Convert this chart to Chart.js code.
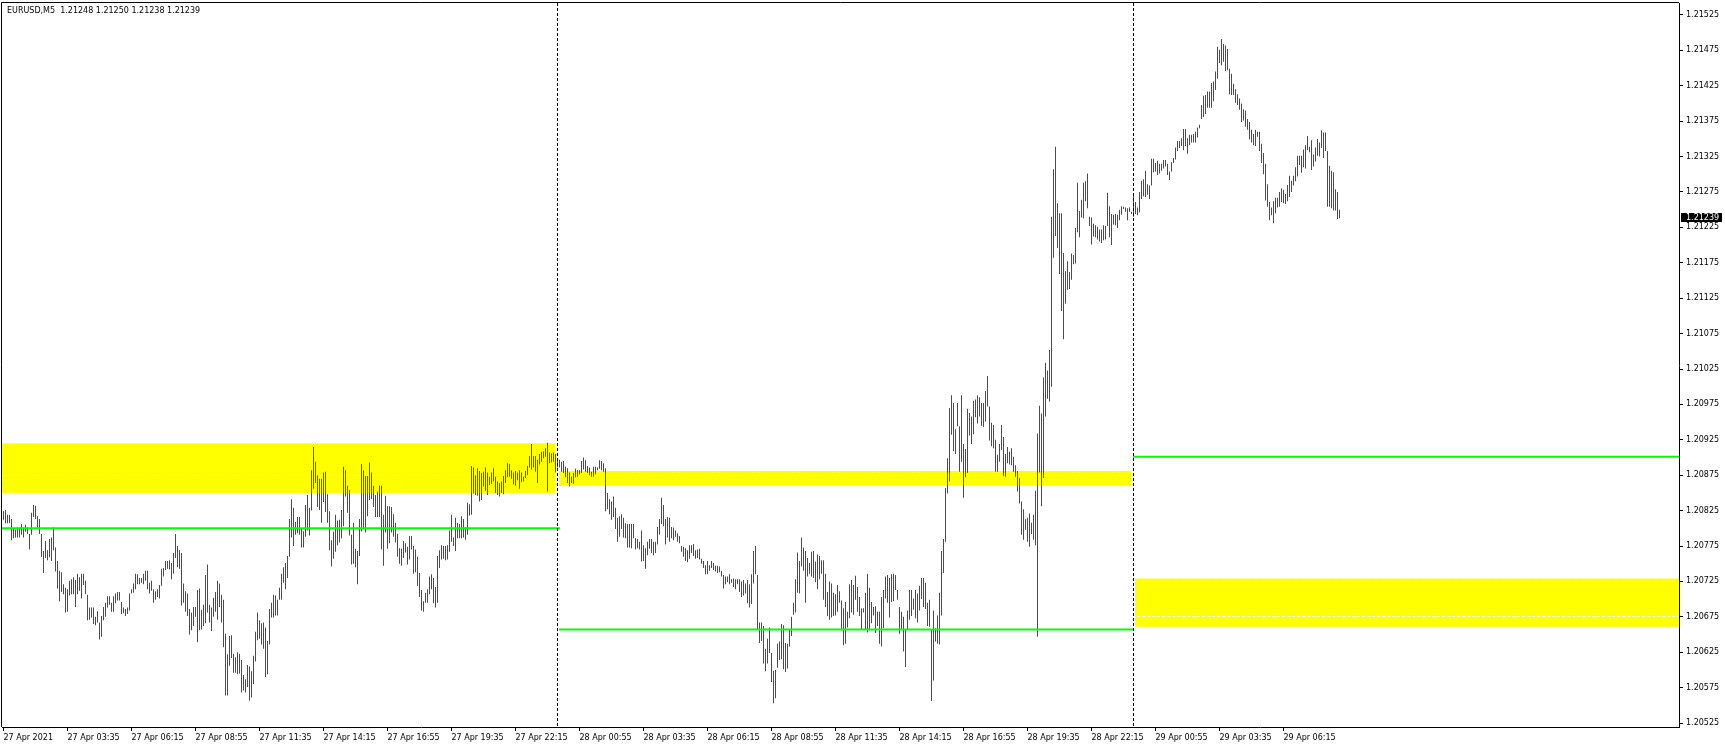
<!DOCTYPE html>
<html><head><meta charset="utf-8">
<script src="https://cdn.jsdelivr.net/npm/chart.js@4.4.0/dist/chart.umd.min.js"></script>
<style>html,body{margin:0;padding:0;background:#fff;overflow:hidden}canvas{display:block}</style>
</head><body>
<canvas id="c" width="1725" height="748"></canvas>
<script>
const chartTitle = 'EURUSD,M5  1.21248 1.21250 1.21238 1.21239';
const lastPrice = 1.21239;

const highs = [
1.20824,1.20826,1.20819,1.20819,1.20813,1.20799,1.20798,1.20801,1.20801,1.20806,
1.20801,1.20805,1.20801,1.20792,1.20822,1.20833,1.20832,1.20817,1.20813,1.20792,
1.20768,1.20782,1.20769,1.20785,1.20787,1.20801,1.20773,1.20754,1.20740,1.20738,
1.20721,1.20716,1.20714,1.20726,1.20728,1.20731,1.20727,1.20736,1.20731,1.20736,
1.20736,1.20726,1.20706,1.20688,1.20688,1.20688,1.20675,1.20683,1.20667,1.20676,
1.20689,1.20695,1.20704,1.20704,1.20695,1.20704,1.20708,1.20710,1.20710,1.20696,
1.20688,1.20686,1.20688,1.20708,1.20714,1.20722,1.20736,1.20735,1.20730,1.20730,
1.20736,1.20740,1.20740,1.20723,1.20726,1.20714,1.20711,1.20714,1.20720,1.20743,
1.20744,1.20754,1.20754,1.20755,1.20751,1.20765,1.20792,1.20775,1.20769,1.20765,
1.20722,1.20711,1.20708,1.20686,1.20681,1.20689,1.20689,1.20713,1.20715,1.20685,
1.20692,1.20734,1.20749,1.20692,1.20688,1.20702,1.20710,1.20726,1.20722,1.20706,
1.20699,1.20651,1.20622,1.20648,1.20649,1.20623,1.20618,1.20625,1.20623,1.20614,
1.20593,1.20587,1.20607,1.20605,1.20598,1.20620,1.20654,1.20681,1.20670,1.20666,
1.20667,1.20660,1.20641,1.20686,1.20695,1.20706,1.20705,1.20699,1.20716,1.20736,
1.20745,1.20751,1.20761,1.20813,1.20841,1.20829,1.20809,1.20816,1.20816,1.20799,
1.20796,1.20833,1.20847,1.20829,1.20882,1.20915,1.20894,1.20875,1.20870,1.20870,
1.20879,1.20880,1.20848,1.20824,1.20783,1.20795,1.20819,1.20811,1.20812,1.20826,
1.20887,1.20882,1.20860,1.20854,1.20791,1.20808,1.20771,1.20768,1.20813,1.20891,
1.20882,1.20874,1.20874,1.20893,1.20879,1.20860,1.20847,1.20852,1.20860,1.20860,
1.20819,1.20846,1.20831,1.20831,1.20830,1.20820,1.20808,1.20792,1.20772,1.20771,
1.20782,1.20779,1.20774,1.20789,1.20789,1.20775,1.20770,1.20760,1.20737,1.20713,
1.20697,1.20709,1.20714,1.20732,1.20735,1.20730,1.20717,1.20761,1.20769,1.20776,
1.20775,1.20775,1.20776,1.20797,1.20819,1.20787,1.20815,1.20808,1.20806,1.20817,
1.20813,1.20802,1.20836,1.20834,1.20888,1.20886,1.20875,1.20885,1.20881,1.20878,
1.20880,1.20886,1.20879,1.20873,1.20879,1.20885,1.20873,1.20866,1.20864,1.20866,
1.20874,1.20882,1.20892,1.20891,1.20882,1.20879,1.20881,1.20879,1.20882,1.20879,
1.20873,1.20881,1.20888,1.20902,1.20919,1.20902,1.20902,1.20897,1.20905,1.20908,
1.20909,1.20913,1.20921,1.20907,1.20906,1.20907,1.20905,1.20897,1.20897,1.20894,
1.20895,1.20887,1.20885,1.20879,1.20873,1.20878,1.20884,1.20882,1.20882,1.20895,
1.20900,1.20896,1.20888,1.20886,1.20880,1.20887,1.20887,1.20886,1.20896,1.20895,
1.20892,1.20885,1.20850,1.20841,1.20838,1.20845,1.20829,1.20815,1.20817,1.20820,
1.20815,1.20807,1.20806,1.20806,1.20806,1.20806,1.20786,1.20785,1.20781,1.20797,
1.20776,1.20772,1.20781,1.20785,1.20785,1.20781,1.20781,1.20802,1.20813,1.20843,
1.20833,1.20813,1.20816,1.20815,1.20802,1.20801,1.20797,1.20793,1.20789,1.20775,
1.20774,1.20772,1.20769,1.20776,1.20776,1.20778,1.20769,1.20770,1.20771,1.20757,
1.20754,1.20748,1.20754,1.20748,1.20754,1.20751,1.20747,1.20747,1.20746,1.20740,
1.20734,1.20732,1.20732,1.20735,1.20728,1.20729,1.20728,1.20728,1.20728,1.20725,
1.20727,1.20722,1.20727,1.20721,1.20735,1.20768,1.20775,1.20734,1.20667,1.20667,
1.20662,1.20630,1.20644,1.20660,1.20624,1.20599,1.20600,1.20637,1.20640,1.20665,
1.20663,1.20638,1.20637,1.20657,1.20675,1.20695,1.20728,1.20766,1.20754,1.20787,
1.20773,1.20768,1.20758,1.20751,1.20767,1.20768,1.20753,1.20763,1.20761,1.20755,
1.20755,1.20736,1.20710,1.20725,1.20722,1.20709,1.20707,1.20720,1.20711,1.20698,
1.20687,1.20696,1.20682,1.20721,1.20727,1.20720,1.20733,1.20717,1.20703,1.20687,
1.20687,1.20709,1.20736,1.20716,1.20696,1.20689,1.20690,1.20682,1.20682,1.20703,
1.20713,1.20732,1.20734,1.20730,1.20735,1.20736,1.20734,1.20713,1.20689,1.20682,
1.20675,1.20657,1.20684,1.20713,1.20713,1.20701,1.20713,1.20708,1.20719,1.20730,
1.20730,1.20723,1.20695,1.20699,1.20657,1.20684,1.20659,1.20677,1.20709,1.20768,
1.20785,1.20857,1.20899,1.20970,1.20988,1.20977,1.20940,1.20977,1.20944,1.20988,
1.20919,1.20912,1.20969,1.20963,1.20958,1.20980,1.20982,1.20988,1.20985,1.20977,
1.20977,1.20994,1.21015,1.20972,1.20949,1.20946,1.20925,1.20904,1.20919,1.20946,
1.20929,1.20905,1.20915,1.20908,1.20913,1.20901,1.20889,1.20881,1.20871,1.20838,
1.20827,1.20813,1.20815,1.20821,1.20808,1.20819,1.20853,1.20934,1.20973,1.20962,
1.21013,1.21034,1.21023,1.21052,1.21240,1.21307,1.21339,1.21259,1.21245,1.21245,
1.21189,1.21163,1.21177,1.21162,1.21188,1.21186,1.21224,1.21288,1.21248,1.21264,
1.21288,1.21290,1.21301,1.21240,1.21239,1.21230,1.21228,1.21226,1.21222,1.21222,
1.21228,1.21227,1.21274,1.21255,1.21244,1.21243,1.21244,1.21243,1.21250,1.21255,
1.21254,1.21253,1.21252,1.21253,1.21247,1.21270,1.21261,1.21253,1.21275,1.21291,
1.21293,1.21305,1.21286,1.21284,1.21322,1.21322,1.21316,1.21319,1.21315,1.21315,
1.21320,1.21320,1.21315,1.21304,1.21317,1.21323,1.21338,1.21347,1.21347,1.21351,
1.21364,1.21364,1.21351,1.21356,1.21356,1.21357,1.21360,1.21366,1.21370,1.21398,
1.21411,1.21412,1.21417,1.21417,1.21429,1.21431,1.21445,1.21480,1.21476,1.21491,
1.21484,1.21482,1.21477,1.21449,1.21442,1.21428,1.21420,1.21413,1.21407,1.21400,
1.21392,1.21390,1.21378,1.21374,1.21363,1.21357,1.21363,1.21360,1.21360,1.21343,
1.21330,1.21315,1.21286,1.21261,1.21253,1.21262,1.21267,1.21267,1.21275,1.21280,
1.21278,1.21272,1.21285,1.21298,1.21291,1.21298,1.21310,1.21326,1.21326,1.21326,
1.21335,1.21341,1.21354,1.21339,1.21348,1.21328,1.21338,1.21350,1.21345,1.21362,
1.21359,1.21359,1.21333,1.21312,1.21305,1.21303,1.21279,1.21275,1.21250
];

const lows = [
1.20812,1.20807,1.20807,1.20807,1.20783,1.20786,1.20787,1.20787,1.20787,1.20791,
1.20787,1.20795,1.20792,1.20770,1.20791,1.20816,1.20813,1.20801,1.20792,1.20760,
1.20737,1.20758,1.20755,1.20759,1.20754,1.20769,1.20739,1.20715,1.20697,1.20710,
1.20707,1.20681,1.20682,1.20705,1.20707,1.20707,1.20689,1.20707,1.20712,1.20701,
1.20720,1.20707,1.20670,1.20671,1.20674,1.20665,1.20663,1.20667,1.20643,1.20647,
1.20670,1.20675,1.20688,1.20692,1.20682,1.20682,1.20694,1.20698,1.20698,1.20679,
1.20680,1.20676,1.20679,1.20684,1.20708,1.20709,1.20714,1.20721,1.20721,1.20723,
1.20721,1.20726,1.20714,1.20708,1.20712,1.20695,1.20699,1.20703,1.20701,1.20719,
1.20732,1.20741,1.20743,1.20742,1.20728,1.20736,1.20758,1.20745,1.20743,1.20691,
1.20695,1.20682,1.20676,1.20650,1.20656,1.20662,1.20675,1.20639,1.20656,1.20657,
1.20662,1.20666,1.20681,1.20667,1.20655,1.20675,1.20682,1.20671,1.20689,1.20667,
1.20632,1.20564,1.20564,1.20606,1.20617,1.20596,1.20596,1.20594,1.20595,1.20568,
1.20571,1.20568,1.20576,1.20557,1.20561,1.20580,1.20612,1.20642,1.20644,1.20636,
1.20630,1.20590,1.20594,1.20636,1.20674,1.20674,1.20677,1.20677,1.20699,1.20699,
1.20723,1.20714,1.20730,1.20760,1.20787,1.20775,1.20791,1.20793,1.20791,1.20773,
1.20773,1.20788,1.20797,1.20790,1.20825,1.20856,1.20864,1.20830,1.20826,1.20808,
1.20837,1.20823,1.20808,1.20769,1.20746,1.20757,1.20767,1.20776,1.20780,1.20786,
1.20803,1.20845,1.20822,1.20790,1.20749,1.20750,1.20745,1.20721,1.20761,1.20796,
1.20799,1.20794,1.20817,1.20840,1.20841,1.20830,1.20816,1.20816,1.20816,1.20770,
1.20747,1.20794,1.20771,1.20779,1.20794,1.20788,1.20780,1.20760,1.20750,1.20747,
1.20758,1.20766,1.20749,1.20756,1.20770,1.20736,1.20738,1.20719,1.20703,1.20684,
1.20682,1.20695,1.20695,1.20707,1.20714,1.20694,1.20688,1.20695,1.20744,1.20756,
1.20757,1.20755,1.20756,1.20767,1.20781,1.20775,1.20768,1.20786,1.20786,1.20786,
1.20787,1.20784,1.20791,1.20818,1.20819,1.20849,1.20847,1.20846,1.20838,1.20840,
1.20859,1.20853,1.20847,1.20861,1.20863,1.20866,1.20850,1.20847,1.20845,1.20850,
1.20848,1.20864,1.20872,1.20873,1.20870,1.20862,1.20860,1.20868,1.20856,1.20865,
1.20866,1.20871,1.20875,1.20886,1.20883,1.20886,1.20880,1.20864,1.20890,1.20894,
1.20899,1.20901,1.20852,1.20892,1.20893,1.20894,1.20879,1.20886,1.20886,1.20880,
1.20878,1.20872,1.20864,1.20859,1.20864,1.20863,1.20872,1.20873,1.20876,1.20878,
1.20883,1.20880,1.20878,1.20875,1.20873,1.20873,1.20876,1.20882,1.20884,1.20882,
1.20880,1.20824,1.20827,1.20820,1.20812,1.20816,1.20799,1.20781,1.20788,1.20799,
1.20787,1.20786,1.20773,1.20773,1.20772,1.20786,1.20770,1.20772,1.20770,1.20753,
1.20754,1.20743,1.20762,1.20771,1.20765,1.20762,1.20765,1.20777,1.20791,1.20806,
1.20803,1.20777,1.20787,1.20781,1.20786,1.20783,1.20788,1.20781,1.20779,1.20767,
1.20760,1.20754,1.20752,1.20757,1.20765,1.20761,1.20757,1.20758,1.20756,1.20750,
1.20744,1.20735,1.20735,1.20740,1.20744,1.20741,1.20739,1.20737,1.20738,1.20732,
1.20715,1.20721,1.20724,1.20721,1.20723,1.20717,1.20714,1.20721,1.20710,1.20703,
1.20705,1.20708,1.20694,1.20688,1.20693,1.20722,1.20735,1.20657,1.20638,1.20641,
1.20609,1.20598,1.20609,1.20624,1.20583,1.20553,1.20560,1.20603,1.20614,1.20615,
1.20601,1.20597,1.20602,1.20633,1.20648,1.20678,1.20681,1.20709,1.20708,1.20746,
1.20740,1.20695,1.20732,1.20736,1.20732,1.20730,1.20724,1.20714,1.20728,1.20736,
1.20699,1.20689,1.20676,1.20671,1.20674,1.20676,1.20677,1.20682,1.20695,1.20656,
1.20635,1.20637,1.20660,1.20673,1.20681,1.20678,1.20699,1.20682,1.20676,1.20657,
1.20681,1.20657,1.20653,1.20656,1.20666,1.20677,1.20652,1.20662,1.20637,1.20633,
1.20659,1.20701,1.20695,1.20674,1.20696,1.20697,1.20713,1.20699,1.20651,1.20657,
1.20626,1.20604,1.20657,1.20671,1.20676,1.20685,1.20673,1.20667,1.20684,1.20700,
1.20689,1.20686,1.20662,1.20661,1.20556,1.20585,1.20640,1.20637,1.20636,1.20677,
1.20737,1.20781,1.20849,1.20866,1.20932,1.20909,1.20905,1.20944,1.20880,1.20894,
1.20843,1.20872,1.20878,1.20931,1.20919,1.20933,1.20957,1.20948,1.20958,1.20945,
1.20943,1.20951,1.20972,1.20924,1.20916,1.20913,1.20880,1.20880,1.20894,1.20911,
1.20874,1.20873,1.20892,1.20890,1.20889,1.20880,1.20873,1.20852,1.20835,1.20791,
1.20784,1.20798,1.20781,1.20774,1.20792,1.20784,1.20776,1.20647,1.20879,1.20831,
1.20871,1.20958,1.20983,1.20979,1.21000,1.21182,1.21213,1.21196,1.21159,1.21107,
1.21067,1.21117,1.21137,1.21138,1.21151,1.21173,1.21174,1.21218,1.21211,1.21239,
1.21238,1.21262,1.21252,1.21227,1.21201,1.21212,1.21211,1.21208,1.21205,1.21203,
1.21207,1.21208,1.21227,1.21211,1.21200,1.21229,1.21228,1.21224,1.21235,1.21243,
1.21251,1.21247,1.21235,1.21247,1.21244,1.21240,1.21244,1.21242,1.21246,1.21265,
1.21269,1.21268,1.21271,1.21265,1.21284,1.21303,1.21304,1.21299,1.21301,1.21305,
1.21308,1.21311,1.21299,1.21292,1.21304,1.21316,1.21321,1.21333,1.21337,1.21340,
1.21334,1.21340,1.21329,1.21341,1.21345,1.21345,1.21345,1.21352,1.21365,1.21378,
1.21381,1.21385,1.21394,1.21394,1.21394,1.21403,1.21419,1.21435,1.21457,1.21454,
1.21459,1.21446,1.21447,1.21413,1.21412,1.21412,1.21401,1.21398,1.21391,1.21374,
1.21376,1.21367,1.21363,1.21349,1.21345,1.21341,1.21340,1.21353,1.21333,1.21316,
1.21300,1.21263,1.21254,1.21235,1.21242,1.21231,1.21245,1.21253,1.21254,1.21261,
1.21259,1.21258,1.21262,1.21268,1.21275,1.21284,1.21290,1.21297,1.21313,1.21302,
1.21310,1.21308,1.21334,1.21331,1.21306,1.21311,1.21318,1.21326,1.21325,1.21337,
1.21323,1.21333,1.21254,1.21254,1.21252,1.21249,1.21249,1.21237,1.21238
];

const yTicks = [1.20525,1.20575,1.20625,1.20675,1.20725,1.20775,1.20825,1.20875,1.20925,1.20975,
  1.21025,1.21075,1.21125,1.21175,1.21225,1.21275,1.21325,1.21375,1.21425,1.21475,1.21525];
const xTickBars = [0,32,64,96,128,160,192,224,256,288,320,352,384,416,448,480,512,544,576,608,640];
const xTickLabels = ['27 Apr 2021','27 Apr 03:35','27 Apr 06:15','27 Apr 08:55','27 Apr 11:35','27 Apr 14:15',
  '27 Apr 16:55','27 Apr 19:35','27 Apr 22:15','28 Apr 00:55','28 Apr 03:35','28 Apr 06:15','28 Apr 08:55',
  '28 Apr 11:35','28 Apr 14:15','28 Apr 16:55','28 Apr 19:35','28 Apr 22:15','29 Apr 00:55','29 Apr 03:35','29 Apr 06:15'];
const daySeparatorBars = [277, 565];

// zones (yellow rectangles), in bar units / prices
const zoneFrom = [-2, 277.75, 565.75];
const zoneTo = [275.75, 563.75, 840];
const zoneLow = [1.20850, 1.20860, 1.20661];
const zoneHigh = [1.20920, 1.20881, 1.20729];

// levels (green lines)
const levelFrom = [-2, 277.75, 564.75];
const levelTo = [278.25, 564.75, 840];
const levelPrice = [1.20800, 1.20657, 1.20901];

const X_MIN = -0.75, X_MAX = 837.75;
const Y_MIN = 1.205194, Y_MAX = 1.215419;
const FONT = '"DejaVu Sans", sans-serif';

const barData = highs.map((h, i) => ({x: i, y: [lows[i], h]}));
const levelSets = levelPrice.map((p, k) => ({
  type: 'line',
  data: [{x: levelFrom[k], y: p}, {x: levelTo[k], y: p}],
  borderColor: '#00FF00', borderWidth: 2, pointRadius: 0, fill: false, order: 0, tension: 0
}));

const decor = {
  id: 'decor',
  beforeDraw(chart) {
    const {ctx, chartArea: a, scales: {x, y}} = chart;
    ctx.save();
    ctx.beginPath(); ctx.rect(a.left, a.top, a.right - a.left, a.bottom - a.top); ctx.clip();
    ctx.fillStyle = '#FFFF00';
    for (let k = 0; k < zoneFrom.length; k++) {
      const x1 = x.getPixelForValue(zoneFrom[k]), x2 = x.getPixelForValue(zoneTo[k]);
      const y1 = y.getPixelForValue(zoneHigh[k]), y2 = y.getPixelForValue(zoneLow[k]);
      ctx.fillRect(x1, y1, x2 - x1, y2 - y1);
    }
    ctx.restore();
  },
  afterDatasetsDraw(chart) {
    const {ctx, chartArea: a, scales: {x}} = chart;
    ctx.save();
    ctx.strokeStyle = '#000'; ctx.lineWidth = 1; ctx.setLineDash([3, 2]);
    daySeparatorBars.forEach(b => {
      const px = Math.floor(x.getPixelForValue(b)) + 0.5;
      ctx.beginPath(); ctx.moveTo(px, a.top); ctx.lineTo(px, a.bottom); ctx.stroke();
    });
    ctx.restore();
  },
  afterDraw(chart) {
    const {ctx, chartArea: a, scales: {y}} = chart;
    ctx.save();
    ctx.strokeStyle = '#000'; ctx.lineWidth = 1;
    ctx.beginPath();
    ctx.moveTo(a.left - 0.5, a.bottom); ctx.lineTo(a.left - 0.5, a.top - 0.5); ctx.lineTo(a.right, a.top - 0.5);
    ctx.stroke();
    ctx.fillStyle = '#000';
    ctx.font = '8px ' + FONT;
    ctx.textBaseline = 'alphabetic'; ctx.textAlign = 'left';
    ctx.fillText(chartTitle, 7, 13);
    const py = Math.round(y.getPixelForValue(lastPrice));
    ctx.fillRect(a.right + 2, py - 4, 41, 9);
    ctx.fillStyle = '#FFF';
    ctx.textBaseline = 'middle';
    ctx.fillText(lastPrice.toFixed(5), a.right + 7, py + 0.5);
    ctx.restore();
  }
};

new Chart(document.getElementById('c'), {
  type: 'bar',
  data: {
    datasets: [{
      type: 'bar', data: barData, backgroundColor: '#FF0000', borderWidth: 0,
      barThickness: 1, inflateAmount: 0, order: 1
    }, ...levelSets]
  },
  options: {
    responsive: false, animation: false, devicePixelRatio: 1, events: [],
    layout: {padding: {left: 2, top: 3, right: 0, bottom: 0}},
    plugins: {legend: {display: false}, tooltip: {enabled: false}, title: {display: false}},
    scales: {
      x: {
        type: 'linear', min: X_MIN, max: X_MAX, offset: false, bounds: 'data', position: 'bottom',
        afterBuildTicks: s => { s.ticks = xTickBars.map(v => ({value: v})); },
        afterFit: s => { s.height = 21; s.paddingLeft = 0; s.paddingRight = 0; },
        grid: {display: true, drawOnChartArea: false, drawTicks: true, tickLength: 4, tickColor: '#000', offset: false},
        border: {display: true, color: '#000', width: 1},
        ticks: {autoSkip: false, maxRotation: 0, minRotation: 0, align: 'start', padding: 1, color: '#000',
          font: {family: FONT, size: 8, lineHeight: 1.6}, callback: (v, i) => xTickLabels[i]}
      },
      y: {
        type: 'linear', position: 'right', min: Y_MIN, max: Y_MAX, bounds: 'data',
        afterBuildTicks: s => { s.ticks = yTicks.map(v => ({value: v})); },
        afterFit: s => { s.width = 46; s.paddingTop = 0; s.paddingBottom = 0; },
        grid: {display: true, drawOnChartArea: true, color: '#FFFFFF', lineWidth: 1, drawTicks: true, tickLength: 4, tickColor: '#000'},
        border: {display: true, color: '#000', width: 1, dash: [3, 2]},
        ticks: {autoSkip: false, padding: 3, color: '#000', font: {family: FONT, size: 8}, callback: v => Number(v).toFixed(5)}
      }
    }
  },
  plugins: [decor]
});
</script>
</body></html>
